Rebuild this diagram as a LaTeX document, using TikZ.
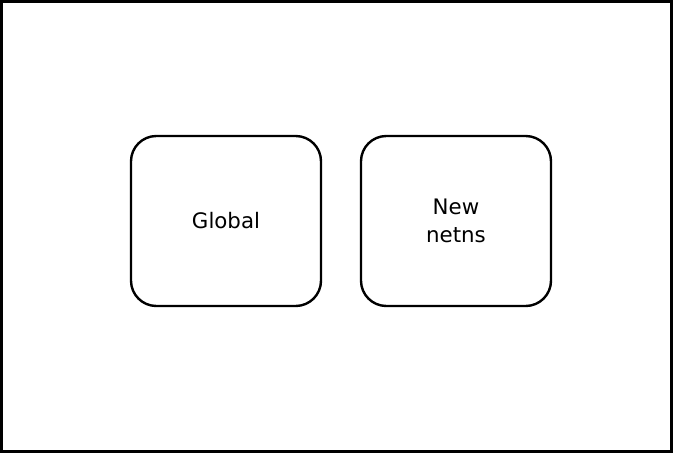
\documentclass[tikz,border=0pt]{standalone}
\usepackage{fontspec}
\setmainfont{DejaVu Sans}
\usepackage{tikz}

\begin{document}
\begin{tikzpicture}[x=0.75pt,y=0.75pt,yscale=-1,xscale=1]
\tikzset{nsbox/.style={draw, line width=1.8pt, rounded corners=19pt, minimum width=142.5pt, minimum height=127.5pt, align=center, font=\fontsize{16}{21.5}\selectfont}}
\useasboundingbox (0,0) rectangle (673,453);

%Shape: Rectangle [id:frame]
\draw [line width=1.8pt]  (1.5,1.5) -- (671.5,1.5) -- (671.5,451.5) -- (1.5,451.5) -- cycle ;

% Rounded box nodes
\node [nsbox] (global) at (226,221) {Global};
\node [nsbox] (netns) at (456,221) {New\\netns};
\end{tikzpicture}
\end{document}
